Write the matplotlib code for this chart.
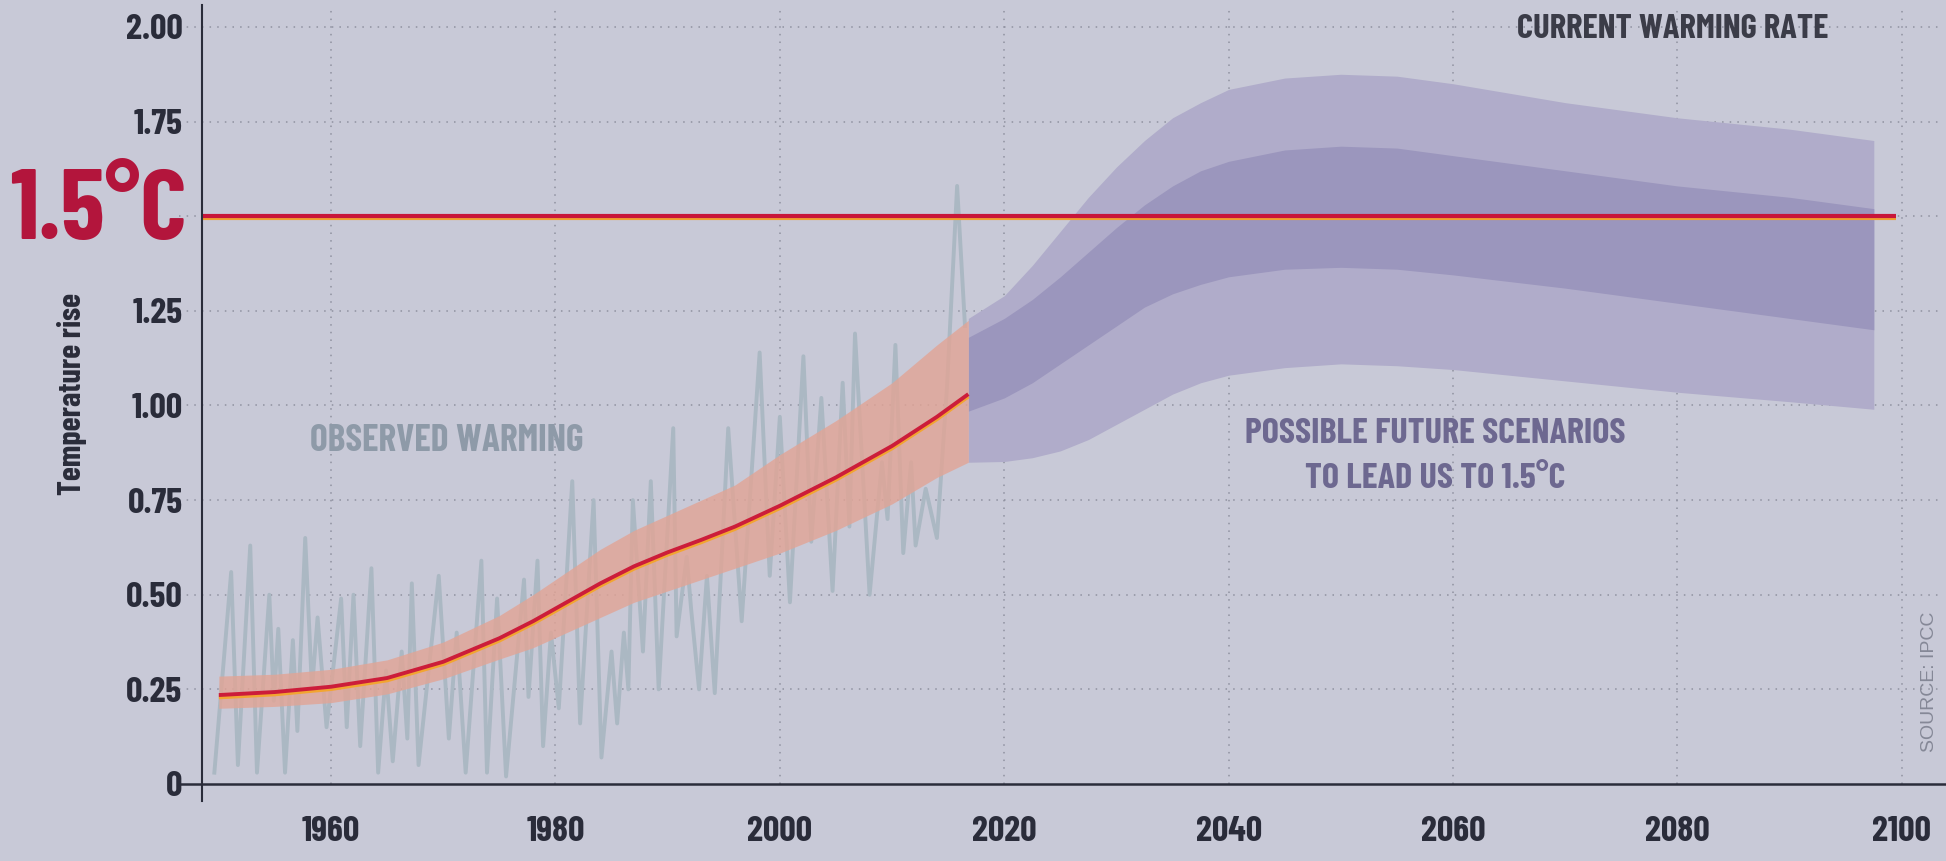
import matplotlib
matplotlib.use("Agg")
import matplotlib.pyplot as plt
import matplotlib.patheffects as pe

FONT = ["Barlow Condensed", "IBM Plex Sans Condensed", "DejaVu Sans"]
plt.rcParams["font.family"] = FONT

# observed annual anomalies (grey zigzag)
obs_years = [1949.6, 1951.1, 1951.7, 1952.8, 1953.4, 1954.5, 1954.9, 1955.3, 1955.9, 1956.6,
             1957.0, 1957.7, 1958.3, 1958.8, 1959.6, 1960.9, 1961.4, 1962.0, 1962.6, 1963.6,
             1964.2, 1964.9, 1965.5, 1966.3, 1966.8, 1967.2, 1967.8, 1969.6, 1970.5, 1971.2,
             1972.0, 1973.4, 1973.9, 1974.8, 1975.6, 1977.2, 1977.6, 1978.4, 1978.9, 1979.6,
             1980.3, 1981.5, 1982.2, 1983.4, 1984.1, 1985.0, 1985.5, 1986.1, 1986.5, 1986.9,
             1987.8, 1988.5, 1989.2, 1990.5, 1990.8, 1991.7, 1992.1, 1992.8, 1993.5, 1994.2,
             1995.4, 1996.6, 1998.2, 1999.1, 2000.0, 2000.9, 2002.1, 2002.8, 2003.7, 2004.7,
             2005.6, 2006.2, 2006.7, 2008.0, 2009.1, 2009.6, 2010.3, 2011.0, 2011.7, 2012.1,
             2013.0, 2014.0, 2014.9, 2015.8, 2016.5]
obs_vals = [0.03, 0.56, 0.05, 0.63, 0.03, 0.50, 0.22, 0.41, 0.03, 0.38,
            0.14, 0.65, 0.25, 0.44, 0.15, 0.49, 0.15, 0.50, 0.10, 0.57,
            0.03, 0.30, 0.06, 0.35, 0.12, 0.53, 0.05, 0.55, 0.12, 0.40,
            0.03, 0.59, 0.03, 0.49, 0.02, 0.54, 0.23, 0.59, 0.10, 0.40,
            0.20, 0.80, 0.16, 0.75, 0.07, 0.35, 0.16, 0.40, 0.25, 0.75,
            0.35, 0.80, 0.25, 0.94, 0.39, 0.60, 0.46, 0.25, 0.55, 0.24,
            0.94, 0.43, 1.14, 0.55, 0.97, 0.48, 1.13, 0.64, 1.02, 0.51,
            1.06, 0.68, 1.19, 0.50, 0.85, 0.70, 1.16, 0.61, 0.85, 0.63,
            0.78, 0.65, 1.05, 1.58, 1.21]

# smoothed trend and its uncertainty band
trend_years = [1950, 1955, 1960, 1965, 1970, 1975, 1978, 1981, 1984, 1987, 1990, 1993,
               1996, 2000, 2005, 2010, 2014, 2016.8]
trend_vals = [0.235, 0.243, 0.257, 0.28, 0.323, 0.385, 0.43, 0.48, 0.53, 0.575, 0.612, 0.645,
              0.68, 0.735, 0.81, 0.893, 0.97, 1.03]
trend_lo = [0.20, 0.205, 0.215, 0.238, 0.278, 0.33, 0.36, 0.40, 0.44, 0.48, 0.51, 0.54,
            0.57, 0.61, 0.67, 0.74, 0.81, 0.85]
trend_hi = [0.285, 0.29, 0.303, 0.328, 0.375, 0.445, 0.50, 0.56, 0.62, 0.67, 0.71, 0.75,
            0.79, 0.87, 0.96, 1.06, 1.16, 1.225]

# future scenario ranges
fut_years = [2016.8, 2020, 2022.5, 2025, 2027.5, 2030, 2032.5, 2035, 2037.5, 2040, 2045, 2050,
             2055, 2060, 2070, 2080, 2090, 2097.5]
outer_hi = [1.23, 1.29, 1.37, 1.46, 1.55, 1.63, 1.70, 1.76, 1.80, 1.835, 1.865, 1.875,
            1.87, 1.85, 1.80, 1.76, 1.73, 1.70]
inner_hi = [1.18, 1.23, 1.28, 1.34, 1.405, 1.47, 1.53, 1.58, 1.62, 1.645, 1.675, 1.685,
            1.68, 1.66, 1.62, 1.58, 1.55, 1.52]
inner_lo = [0.985, 1.02, 1.06, 1.11, 1.16, 1.21, 1.26, 1.295, 1.32, 1.34, 1.36, 1.365,
            1.36, 1.345, 1.31, 1.27, 1.23, 1.20]
outer_lo = [0.85, 0.852, 0.862, 0.88, 0.91, 0.95, 0.99, 1.03, 1.06, 1.08, 1.10, 1.11,
            1.105, 1.095, 1.065, 1.035, 1.01, 0.99]

# current warming rate extrapolation
rate_years = [2016.8, 2061.5]
rate_vals = [1.03, 1.995]

target = 1.5
target_end = 2099.5
y_ticks = [0, 0.25, 0.5, 0.75, 1.0, 1.25, 1.5, 1.75, 2.0]
y_labels = ["0", "0.25", "0.50", "0.75", "1.00", "1.25", "", "1.75", "2.00"]
x_ticks = [1960, 1980, 2000, 2020, 2040, 2060, 2080, 2100]

BG = "#c8c9d7"
INK = "#2a2c3a"

fig = plt.figure(figsize=(19.46, 8.61), dpi=100, facecolor=BG)
ax = fig.add_axes([202 / 1946, 1 - 784 / 861, (1940 - 202) / 1946, 779 / 861])
ax.set_facecolor(BG)
ax.set_xlim(1948.5, 2103.4)
ax.set_ylim(0, 2.058)

# dotted grid (extends a little left of the axis)
for v in y_ticks[1:]:
    ax.plot([-0.013, 1], [v, v], transform=ax.get_yaxis_transform(), clip_on=False,
            color="#8f91a0", lw=1.1, ls=(0, (1, 4)), zorder=1)
for x in x_ticks:
    ax.axvline(x, color="#8f91a0", lw=1.1, ls=(0, (1, 4)), zorder=1)

# future bands
ax.fill_between(fut_years, outer_lo, outer_hi, color="#b0acca", lw=0, zorder=2)
ax.fill_between(fut_years, inner_lo, inner_hi, color="#9b96bd", lw=0, zorder=2.1)

# observed series, band, trend
ax.plot(obs_years, obs_vals, color="#abb8c3", lw=2.8, zorder=3)
ax.fill_between(trend_years, trend_lo, trend_hi, color="#e2a495", alpha=0.8, lw=0, zorder=4)
glow = [pe.Stroke(linewidth=2.8, foreground="#f2a531", offset=(0, -1.7)), pe.Normal()]
ax.plot(trend_years, trend_vals, color="#cc1d3a", lw=2.8, zorder=6, path_effects=glow,
        solid_capstyle="butt")

# 1.5 degree line
ax.hlines(target, 1948.5, target_end, color="#c8163a", lw=3.0, zorder=5,
          path_effects=[pe.Stroke(linewidth=3.0, foreground="#f0a030", offset=(0, -1.6)), pe.Normal()])

# current warming rate
ax.plot(rate_years, rate_vals, color="#2b2b38", lw=4.6, ls=(0, (0, 2.6)),
        dash_capstyle="round", zorder=7)

# axes lines
for s in ax.spines.values():
    s.set_visible(False)
ax.plot([-0.012, 1.005], [0, 0], transform=ax.transAxes, clip_on=False, color=INK, lw=1.8, zorder=8)
ax.plot([0, 0], [-0.022, 1], transform=ax.transAxes, clip_on=False, color=INK, lw=1.5, zorder=8)

ax.set_yticks(y_ticks, y_labels)
ax.set_xticks(x_ticks, [str(x) for x in x_ticks])
ax.tick_params(length=0, labelsize=26, labelcolor=INK)
ax.tick_params(axis="y", pad=14)
ax.tick_params(axis="x", pad=23)
for lab in ax.get_xticklabels() + ax.get_yticklabels():
    lab.set_fontweight("bold")

fig.text(72 / 1946, 1 - 394 / 861, "Temperature rise", rotation=90, ha="center", va="center",
         fontsize=23, fontweight="bold", color=INK)
fig.text(10 / 1946, 1 - 214 / 861, "1.5°C", ha="left", va="center", fontsize=72,
         fontweight="bold", color="#b3153c")

ax.text(1958.1, 0.905, "OBSERVED WARMING", ha="left", va="center", fontsize=27,
        fontweight="bold", color="#8e9aa8", zorder=9)
ax.text(2058.4, 0.865, "POSSIBLE FUTURE SCENARIOS\nTO LEAD US TO 1.5°C", ha="center", va="center",
        fontsize=26, fontweight="bold", color="#6d6890", linespacing=1.55, zorder=9)
fig.text(1517 / 1946, 1 - 29 / 861, "CURRENT WARMING RATE", ha="left", va="center",
         fontsize=25, fontweight="bold", color="#3b3c48")
fig.text(1930 / 1946, 1 - 682 / 861, "SOURCE: IPCC", rotation=90, ha="center", va="center",
         fontsize=14, color="#858897", family=["Liberation Sans", "DejaVu Sans"])

fig.savefig("out.png", dpi=100, facecolor=BG)
